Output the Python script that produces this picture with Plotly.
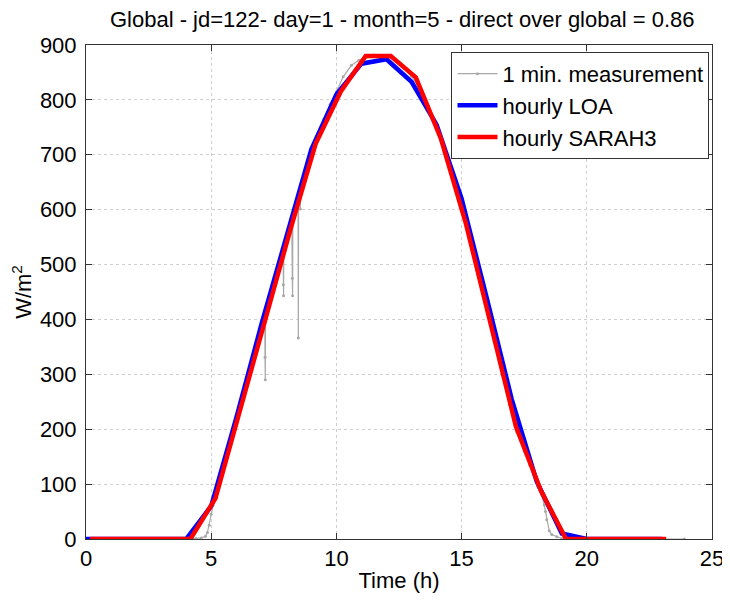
import plotly.graph_objects as go

# 1-minute measurement (sampled readings from the picture), hours / W m-2
meas_t = [0.0, 1.0, 2.0, 3.0, 4.0, 4.2, 4.4, 4.6, 4.77, 4.85, 4.92, 5.0, 5.08, 5.17, 5.3, 5.5,
          5.75, 6.0, 6.25, 6.5, 6.75, 7.0, 7.1, 7.14, 7.15, 7.16, 7.17, 7.3, 7.5, 7.7, 7.85,
          7.87, 7.88, 7.89, 7.9, 8.0, 8.1, 8.22, 8.24, 8.25, 8.26, 8.4, 8.47, 8.48, 8.49, 8.55,
          8.56, 8.57, 8.75, 9.0, 9.25, 9.5, 9.75, 10.0, 10.27, 10.6, 10.9, 11.2, 11.5, 11.8,
          12.1, 12.4, 12.7, 13.0, 13.3, 13.6, 13.9, 14.2, 14.5, 14.8, 15.1, 15.4, 15.7, 16.0,
          16.3, 16.6, 16.9, 17.2, 17.5, 17.72, 17.9, 18.05, 18.2, 18.3, 18.35, 18.4, 18.5,
          18.6, 18.8, 19.0, 19.3, 20.0, 21.0, 22.0, 23.0, 23.9]
meas_v = [0, 0, 0, 0, 0, 0, 1, 2, 5, 12, 25, 45, 62, 78, 98, 130,
          170, 212, 252, 292, 333, 372, 388, 395, 331, 290, 400, 420, 455, 490, 520,
          532, 463, 443, 535, 545, 560, 575, 475, 443, 580, 605, 618, 366, 623, 630,
          601, 635, 660, 697, 732, 765, 792, 815, 842, 863, 872, 878, 882, 881,
          878, 870, 858, 843, 822, 795, 762, 727, 685, 637, 585, 530, 475, 418,
          360, 300, 245, 195, 160, 135, 115, 95, 80, 62, 50, 35, 15,
          8, 4, 1, 0, 0, 0, 0, 0, 0]

# hourly LOA
loa_t = list(range(24))
loa_v = [0, 0, 0, 0, 0, 60, 220, 390, 550, 710, 810, 866, 874, 833, 755, 620, 440, 255,
         105, 10, 0, 0, 0, 0]

# hourly SARAH3
sarah_t = [0.17, 1.17, 2.17, 3.17, 4.17, 5.17, 6.17, 7.17, 8.17, 9.17, 10.17, 11.17,
           12.17, 13.17, 14.17, 15.17, 16.17, 17.17, 18.17, 19.17, 20.17, 21.17, 22.17, 23.17]
sarah_v = [0, 0, 0, 0, 0, 74, 240, 405, 565, 720, 815, 880, 880, 841, 730, 575, 390, 205,
           88, 0, 0, 0, 0, 0]

x_ticks = [0, 5, 10, 15, 20, 25]
y_ticks = [0, 100, 200, 300, 400, 500, 600, 700, 800, 900]

title_text = "Global - jd=122- day=1 - month=5 - direct over global = 0.86"
FONT = "Liberation Sans, Arial, Helvetica, sans-serif"

fig = go.Figure()
fig.add_trace(go.Scatter(x=meas_t, y=meas_v, mode="lines+markers", name="1 min. measurement",
                         line=dict(color="#a8a8a8", width=1.2),
                         marker=dict(color="#a8a8a8", size=3)))
fig.add_trace(go.Scatter(x=loa_t, y=loa_v, mode="lines", name="hourly LOA",
                         line=dict(color="#0000ff", width=4.5)))
fig.add_trace(go.Scatter(x=sarah_t, y=sarah_v, mode="lines", name="hourly SARAH3",
                         line=dict(color="#ff0000", width=4.5)))

axis_common = dict(showline=True, linecolor="#333333", linewidth=1, mirror="ticks",
                   ticks="inside", ticklen=6, tickcolor="#333333", automargin=False,
                   showgrid=True, gridcolor="#cfcfcf", griddash="dot", gridwidth=1,
                   zeroline=False, tickfont=dict(family=FONT, size=22, color="#000"))

fig.update_xaxes(range=[0, 25], tickvals=x_ticks, ticklabelstandoff=0,
                 title=dict(text="Time (h)", standoff=2,
                            font=dict(family=FONT, size=22, color="#000")), **axis_common)
fig.update_yaxes(range=[0, 900], tickvals=y_ticks, ticklabelstandoff=4,
                 title=dict(text="W/m<sup>2</sup>", standoff=3,
                            font=dict(family=FONT, size=22, color="#000")), **axis_common)

# page body has an 8 px margin, so the figure is 722x592 and sits at (8, 8)
fig.update_layout(
    width=722, height=592,
    margin=dict(l=78, r=18, t=37, b=61),
    paper_bgcolor="white", plot_bgcolor="white",
    title=dict(text=title_text, x=0.546, xanchor="center", y=0.981, yanchor="middle",
               font=dict(family=FONT, size=22, color="#000")),
    legend=dict(x=0.996, xanchor="right", y=0.986, yanchor="top",
                bgcolor="white", bordercolor="#333333", borderwidth=1,
                font=dict(family=FONT, size=22, color="#000"),
                tracegroupgap=0, itemwidth=40),
    showlegend=True,
    font=dict(family=FONT),
)

fig.write_html("out.html")
